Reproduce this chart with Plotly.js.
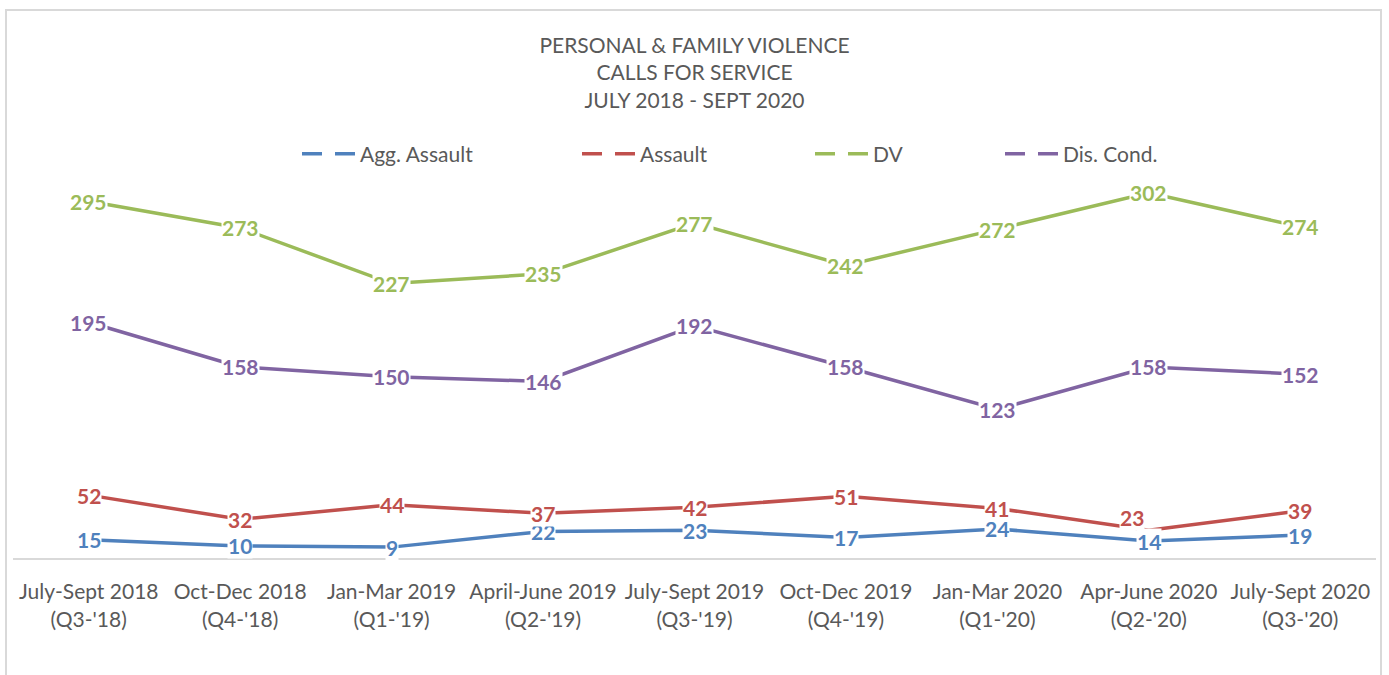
<!DOCTYPE html>
<html>
<head>
<meta charset="utf-8">
<script src="https://cdn.plot.ly/plotly-3.0.1.min.js"></script>
<style>
  html, body { margin: 0; padding: 0; background: #ffffff; }
  #frame { position: absolute; left: 5px; top: 9px; width: 1377px; height: 700px; border: 2px solid #d9d9d9; box-sizing: border-box; }
  #chart { position: absolute; left: 0; top: 0; width: 1389px; height: 675px; }
</style>
</head>
<body>
<div id="frame"></div>
<div id="chart"></div>
<script>
const categories = [
  "July-Sept 2018<br>(Q3-'18)",
  "Oct-Dec 2018<br>(Q4-'18)",
  "Jan-Mar 2019<br>(Q1-'19)",
  "April-June 2019<br>(Q2-'19)",
  "July-Sept 2019<br>(Q3-'19)",
  "Oct-Dec 2019<br>(Q4-'19)",
  "Jan-Mar 2020<br>(Q1-'20)",
  "Apr-June 2020<br>(Q2-'20)",
  "July-Sept 2020<br>(Q3-'20)"
];
const aggAssault = [15, 10, 9, 22, 23, 17, 24, 14, 19];
const assault    = [52, 32, 44, 37, 42, 51, 41, 23, 39];
const dv         = [295, 273, 227, 235, 277, 242, 272, 302, 274];
const disCond    = [195, 158, 150, 146, 192, 158, 123, 158, 152];

const seriesNames = ["Agg. Assault", "Assault", "DV", "Dis. Cond."];
const seriesData = [aggAssault, assault, dv, disCond];
const seriesColors = ["#4f81bd", "#c0504d", "#9bbb59", "#8064a2"];
const legendIds = ["legend", "legend2", "legend3", "legend4"];
const legendX = [297, 577, 810, 1000];

const FONT = "Lato, 'Open Sans', sans-serif";
const GRAY = "#595959";

const traces = [];
seriesData.forEach((vals, s) => {
  traces.push({
    x: categories, y: vals, type: "scatter", mode: "lines",
    line: { color: seriesColors[s], width: 3.5 },
    showlegend: false, hoverinfo: "skip"
  });
});
seriesData.forEach((vals, s) => {
  traces.push({
    x: [null], y: [null], type: "scatter", mode: "lines",
    name: seriesNames[s], legend: legendIds[s],
    line: { color: seriesColors[s], width: 3.5, dash: "20px,13px" },
    hoverinfo: "skip"
  });
});

const annotations = [];
seriesData.forEach((vals, s) => {
  vals.forEach((v, i) => {
    const a = {
      x: categories[i], y: v, xref: "x", yref: "y",
      text: String(v), showarrow: false,
      bgcolor: "#ffffff", borderpad: 0,
      font: { family: FONT, size: 21, color: seriesColors[s], weight: "bold" }
    };
    if (s === 1 && i === 7) { a.xshift = -17; a.yshift = 13; }
    annotations.push(a);
  });
});

const layout = {
  width: 1389, height: 675,
  paper_bgcolor: "rgba(0,0,0,0)", plot_bgcolor: "rgba(0,0,0,0)",
  margin: { l: 13, r: 13, t: 159, b: 117, autoexpand: false },
  title: {
    text: "PERSONAL &amp; FAMILY VIOLENCE<br>CALLS FOR SERVICE<br>JULY 2018 - SEPT 2020",
    font: { family: FONT, size: 21, color: GRAY },
    x: 0.5, xref: "container", y: 1 - 53 / 675, yref: "container", yanchor: "top"
  },
  xaxis: {
    type: "category", range: [-0.5, 8.5], fixedrange: true,
    showline: true, linecolor: "#d9d9d9", linewidth: 2,
    showgrid: false, zeroline: false, ticks: "",
    ticklabelstandoff: 14,
    tickfont: { family: FONT, size: 21, color: GRAY }
  },
  yaxis: {
    range: [0, 330], visible: false, showgrid: false, zeroline: false, fixedrange: true
  },
  annotations: annotations,
  showlegend: true
};
legendIds.forEach((id, s) => {
  layout[id] = {
    orientation: "h", xref: "container", yref: "container",
    x: legendX[s] / 1389, xanchor: "left",
    y: 1 - 154 / 675, yanchor: "middle",
    bgcolor: "rgba(0,0,0,0)", borderwidth: 0,
    font: { family: FONT, size: 21, color: GRAY },
    itemwidth: 53, tracegroupgap: 0
  };
});

Plotly.newPlot("chart", traces, layout, { displayModeBar: false, staticPlot: true });
</script>
</body>
</html>
